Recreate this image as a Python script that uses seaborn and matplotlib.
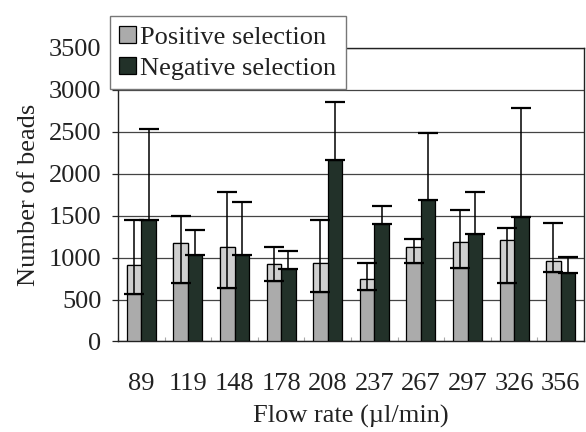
import numpy as np
import pandas as pd
import matplotlib
matplotlib.use("Agg")
import matplotlib.pyplot as plt
import seaborn as sns

flow_rates = ["89", "119", "148", "178", "208", "237", "267", "297", "326", "356"]
positive = [917, 1180, 1132, 921, 941, 742, 1131, 1187, 1207, 961]
positive_hi = [1451, 1495, 1786, 1131, 1445, 937, 1223, 1568, 1350, 1417]
positive_lo = [566, 698, 634, 723, 596, 615, 941, 881, 695, 830]
negative = [1451, 1037, 1029, 866, 2164, 1401, 1690, 1286, 1490, 814]
negative_hi = [2528, 1324, 1667, 1080, 2850, 1616, 2485, 1787, 2779, 1008]
series_names = ["Positive selection", "Negative selection"]

sns.set_theme(style="white")
plt.rcParams["font.family"] = ["Liberation Serif", "DejaVu Serif"]

df = pd.DataFrame({
    "flow": flow_rates * 2,
    "value": positive + negative,
    "series": [series_names[0]] * len(flow_rates) + [series_names[1]] * len(flow_rates),
})

pos_color = "#ababab"
pos_light = "#cfcfcf"
neg_color = "#1f3329"
FS = 19

fig = plt.figure(figsize=(5.86, 4.32), dpi=100)
ax = fig.add_axes([0.2014, 0.2095, 0.7952, 0.6795])

sns.barplot(data=df, x="flow", y="value", hue="series", order=flow_rates,
            hue_order=series_names, palette=[pos_color, neg_color],
            errorbar=None, width=0.62, edgecolor="black", linewidth=0.9,
            ax=ax, zorder=3, legend=True)

bars_pos = ax.containers[0]
bars_neg = ax.containers[1]
xp = np.array([p.get_x() + p.get_width() / 2 for p in bars_pos])
xn = np.array([p.get_x() + p.get_width() / 2 for p in bars_neg])
w = bars_pos[0].get_width()

pos_arr = np.array(positive)
# lighter fill of the positive bars above the lower error cap
ax.bar(xp, pos_arr - np.array(positive_lo), bottom=positive_lo, width=w,
       color=pos_light, edgecolor="black", linewidth=0.9, zorder=3.5)

ax.errorbar(xp, pos_arr, yerr=[pos_arr - np.array(positive_lo), np.array(positive_hi) - pos_arr],
            fmt="none", ecolor="black", elinewidth=1.1, capsize=7, capthick=1.6, zorder=4)
neg_arr = np.array(negative)
ax.errorbar(xn, neg_arr, yerr=[np.zeros_like(neg_arr), np.array(negative_hi) - neg_arr],
            fmt="none", ecolor="black", elinewidth=1.1, capsize=7, capthick=1.6, zorder=4)

ax.set_ylim(0, 3500)
ax.set_xlim(-0.5, len(flow_rates) - 0.5)
ax.set_yticks(np.arange(0, 3501, 500))
ax.yaxis.grid(True, color="#444444", linewidth=0.9, zorder=0)
ax.set_axisbelow(True)

for s in ["left", "top", "right", "bottom"]:
    ax.spines[s].set_visible(True)
    ax.spines[s].set_color("#222222")
    ax.spines[s].set_linewidth(1.0)

ax.tick_params(axis="y", which="major", left=True, length=4, width=0.9, color="#222222",
               pad=8, labelsize=FS, labelcolor="#222222")
ax.tick_params(axis="x", which="major", bottom=False, pad=17, labelsize=FS, labelcolor="#222222")
ax.set_xticks(np.arange(-0.5, len(flow_rates), 1.0), minor=True)
ax.tick_params(axis="x", which="minor", bottom=True, direction="in", length=3, width=0.8, color="#aaaaaa")

ax.set_xlabel("Flow rate (µl/min)", fontsize=FS, color="#222222", labelpad=7)
ax.set_ylabel("Number of beads", fontsize=FS, color="#222222", labelpad=6)

handles, labels = ax.get_legend_handles_labels()
ax.get_legend().remove()
leg = fig.legend(handles, labels, loc="upper left", bbox_to_anchor=(0.1877, 0.962),
                 frameon=True, fancybox=False, fontsize=FS, handlelength=0.65,
                 handleheight=0.65, handletextpad=0.15, borderpad=0.35, labelspacing=0.3,
                 borderaxespad=0)
leg.get_frame().set_edgecolor("#777777")
leg.get_frame().set_linewidth(1.0)
leg.get_frame().set_facecolor("white")
leg.get_frame().set_alpha(1)
leg.set_zorder(10)
for t in leg.get_texts():
    t.set_color("#222222")

fig.savefig("out.png", dpi=100)
